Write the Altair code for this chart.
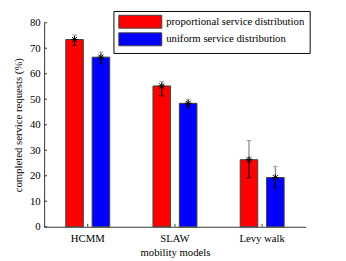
import altair as alt
import pandas as pd

models = ["HCMM", "SLAW", "Levy walk"]
series = ["proportional service distribution", "uniform service distribution"]
colors = ["#FF0000", "#0000FF"]

prop_val = [73.4, 55.2, 26.3]
prop_lo = [71.1, 51.3, 19.2]
prop_hi = [75.2, 57.0, 33.8]

unif_val = [66.5, 48.4, 19.3]
unif_lo = [63.9, 46.8, 15.3]
unif_hi = [68.5, 50.0, 23.7]

y_ticks = [0, 10, 20, 30, 40, 50, 60, 70, 80]

rows = []
for i, m in enumerate(models):
    rows.append({"model": m, "series": series[0], "value": prop_val[i], "lo": prop_lo[i], "hi": prop_hi[i]})
    rows.append({"model": m, "series": series[1], "value": unif_val[i], "lo": unif_lo[i], "hi": unif_hi[i]})
df = pd.DataFrame(rows)
tick_df = pd.DataFrame({"value": y_ticks})
model_df = pd.DataFrame({"model": models})

FONT = "Liberation Serif"
AX = "#333333"

X = alt.X("model:N", sort=models,
          scale=alt.Scale(paddingInner=0, paddingOuter=0),
          axis=alt.Axis(title="mobility models", labelAngle=0, ticks=False, tickSize=0,
                        labelPadding=6, titlePadding=3, domainColor=AX))
XO = alt.XOffset("series:N", sort=series,
                 scale=alt.Scale(paddingInner=0.333, paddingOuter=0.82))
Y_AXIS = alt.Axis(title="completed service requests (%)", values=y_ticks,
                  ticks=False, tickSize=0, labelPadding=4, titlePadding=6,
                  labelOverlap=False, grid=False, domainColor=AX)
Y_SCALE = alt.Scale(domain=[0, 80], nice=False)


def Y(field):
    return alt.Y(f"{field}:Q", scale=Y_SCALE, axis=Y_AXIS)


base = alt.Chart(df).encode(x=X, xOffset=XO)

bars = base.mark_bar(stroke="#404040", strokeWidth=1).encode(
    y=Y("value"),
    color=alt.Color("series:N", sort=series,
                    scale=alt.Scale(domain=series, range=colors),
                    legend=alt.Legend(title=None, orient="none", legendX=71, legendY=-12,
                                      direction="vertical",
                                      symbolType="M-1,-1.2H7V1.2H-1Z", symbolSize=121,
                                      symbolStrokeColor="#404040", symbolStrokeWidth=1,
                                      symbolOpacity=1,
                                      labelOffset=37, rowPadding=0,
                                      labelExpr="datum.label + '          '",
                                      strokeColor="black", fillColor="white",
                                      padding=5, labelFontSize=11, labelLimit=400)),
)

err_up = base.mark_rule(color="#808080", strokeWidth=1.2).encode(y=Y("value"), y2="hi:Q")
err_dn = base.mark_rule(color="black", strokeWidth=1.2).encode(y=Y("value"), y2="lo:Q")
cap_up = base.mark_tick(color="#808080", size=5, thickness=1).encode(y=Y("hi"))
cap_dn = base.mark_tick(color="black", size=5, thickness=1).encode(y=Y("lo"))
star = base.mark_point(
    shape="M0,-1V1M-1,0H1M-0.75,-0.75L0.75,0.75M-0.75,0.75L0.75,-0.75",
    size=49, color="black", filled=False, strokeWidth=1, opacity=1,
).encode(y=Y("value"))

yt = alt.Chart(tick_df).mark_rule(color=AX).encode(y=Y("value"), x=alt.value(0), x2=alt.value(3))
xt = alt.Chart(model_df).mark_rule(color=AX).encode(x=X, y=alt.value(209), y2=alt.value(206))

chart = alt.layer(bars, err_up, err_dn, cap_up, cap_dn, star, yt, xt).properties(
    width=268, height=209,
    autosize=alt.AutoSizeParams(type="none"),
    padding={"left": 37, "top": 12, "right": 33, "bottom": 32},
).configure(font=FONT).configure_view(stroke=None).configure_axis(
    labelFont=FONT, titleFont=FONT, labelFontSize=11, titleFontSize=11,
    labelColor="black", titleColor="black", titleFontWeight="normal",
    labelOverlap=False,
).configure_legend(labelFont=FONT, labelColor="black")

chart.save("out.html", embed_options={"renderer": "svg", "actions": False})
